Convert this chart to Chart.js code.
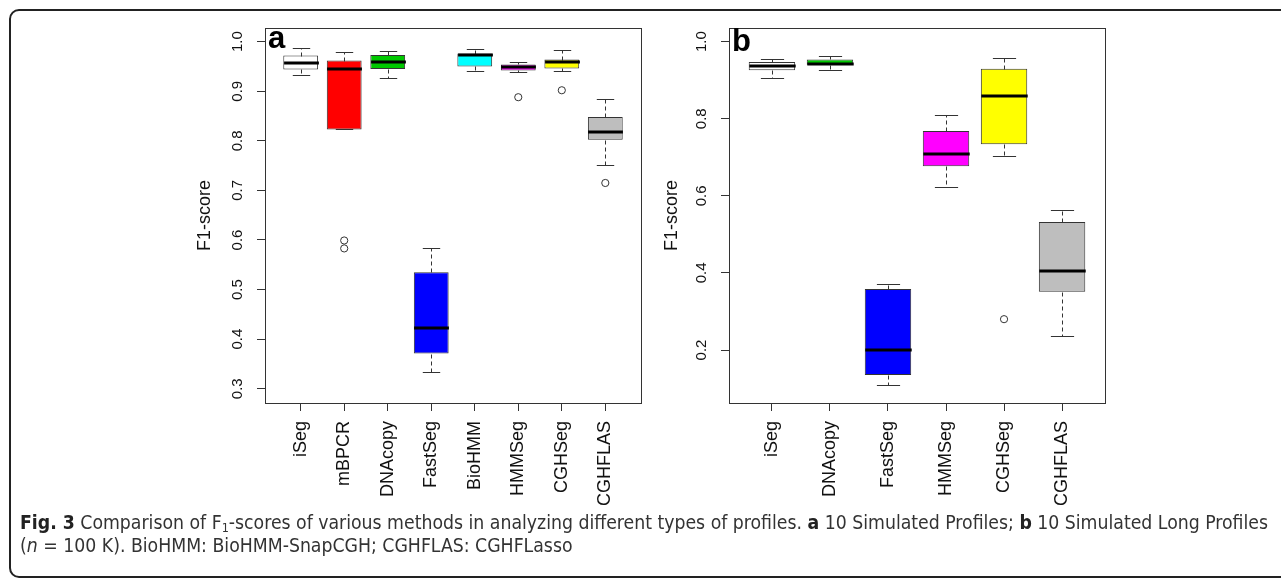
<!DOCTYPE html>
<html>
<head>
<meta charset="utf-8">
<title>F1-scores boxplots</title>
<script src="https://cdn.jsdelivr.net/npm/chart.js@4.4.1/dist/chart.umd.min.js"></script>
<style>
  html, body { margin: 0; padding: 0; background: #fff; }
  body { width: 1281px; height: 580px; position: relative; overflow: hidden; }
  #frame {
    position: absolute; left: 9px; top: 9px; width: 1320px; height: 569px;
    box-sizing: border-box; border: 2px solid #222; border-radius: 10px;
  }
  canvas { position: absolute; top: 0; }
  #chartA { left: 160px; }
  #chartB { left: 650px; }
  .cap {
    position: absolute; left: 20px; white-space: nowrap; color: #333;
    font-family: "Liberation Sans Narrow", "DejaVu Sans Condensed", "Liberation Sans", sans-serif;
    font-size: 20px; line-height: 22px; transform-origin: 0 0;
  }
  .cap b { color: #222; }
  .cap sub { font-size: 13px; vertical-align: -3px; line-height: 0; }
  #cap1 { top: 511px; }
  #cap2 { top: 534px; }
</style>
</head>
<body>
<div id="frame"></div>
<canvas id="chartA" width="490" height="520"></canvas>
<canvas id="chartB" width="470" height="520"></canvas>
<div class="cap" id="cap1"><b>Fig. 3</b> Comparison of F<sub>1</sub>-scores of various methods in analyzing different types of profiles. <b>a</b> 10 Simulated Profiles; <b>b</b> 10 Simulated Long Profiles</div>
<div class="cap" id="cap2">(<i>n</i> = 100 K). BioHMM: BioHMM-SnapCGH; CGHFLAS: CGHFLasso</div>
<script>
// Panel a: 10 simulated profiles
const catsA = ['iSeg', 'mBPCR', 'DNAcopy', 'FastSeg', 'BioHMM', 'HMMSeg', 'CGHSeg', 'CGHFLAS'];
const lowA  = [0.933, 0.823, 0.927, 0.333, 0.941, 0.938, 0.940, 0.751];
const q1A   = [0.944, 0.823, 0.945, 0.371, 0.950, 0.942, 0.946, 0.802];
const medA  = [0.958, 0.944, 0.959, 0.422, 0.974, 0.948, 0.959, 0.817];
const q3A   = [0.972, 0.962, 0.973, 0.535, 0.976, 0.954, 0.964, 0.848];
const highA = [0.988, 0.979, 0.981, 0.583, 0.985, 0.959, 0.983, 0.885];
const outA  = [[2, 0.599], [2, 0.583], [6, 0.888], [7, 0.902], [8, 0.715]];
const colorsA = ['#ffffff', '#ff0000', '#00c800', '#0000ff', '#00ffff', '#ff00ff', '#ffff00', '#bebebe'];
const yTicksA = [0.3, 0.4, 0.5, 0.6, 0.7, 0.8, 0.9, 1.0];

// Panel b: 10 simulated long profiles
const catsB = ['iSeg', 'DNAcopy', 'FastSeg', 'HMMSeg', 'CGHSeg', 'CGHFLAS'];
const lowB  = [0.905, 0.927, 0.109, 0.624, 0.704, 0.237];
const q1B   = [0.926, 0.940, 0.135, 0.677, 0.734, 0.351];
const medB  = [0.938, 0.943, 0.199, 0.708, 0.859, 0.404];
const q3B   = [0.947, 0.954, 0.358, 0.768, 0.930, 0.532];
const highB = [0.955, 0.962, 0.370, 0.811, 0.957, 0.564];
const outB  = [[5, 0.280]];
const colorsB = ['#ffffff', '#00c800', '#0000ff', '#ff00ff', '#ffff00', '#bebebe'];
const yTicksB = [0.2, 0.4, 0.6, 0.8, 1.0];

const FONT = "'Liberation Sans', Arial, sans-serif";

// whiskers, medians, frame, y tick labels and panel letter
function boxExtras(p) {
  return {
    id: 'boxExtras',
    afterDatasetsDraw(chart) {
      const { ctx, chartArea: a, scales: { x, y } } = chart;
      const bars = chart.getDatasetMeta(0).data;
      const line = (x1, y1, x2, y2) => {
        ctx.beginPath(); ctx.moveTo(x1, y1); ctx.lineTo(x2, y2); ctx.stroke();
      };
      const py = v => Math.round(y.getPixelForValue(v)) + 0.5;
      ctx.save();
      p.cats.forEach((c, i) => {
        const cx = Math.round(x.getPixelForValue(i + 1)) + 0.5;
        const w = bars[i].width;
        ctx.strokeStyle = '#333';
        ctx.lineWidth = 1;
        ctx.setLineDash([4, 3]);
        line(cx, py(p.q3[i]), cx, py(p.high[i]));
        line(cx, py(p.q1[i]), cx, py(p.low[i]));
        ctx.setLineDash([]);
        line(cx - w / 4, py(p.high[i]), cx + w / 4, py(p.high[i]));
        line(cx - w / 4, py(p.low[i]), cx + w / 4, py(p.low[i]));
        ctx.strokeStyle = '#000';
        ctx.lineWidth = 3;
        const ym = Math.round(y.getPixelForValue(p.med[i]));
        line(cx - w / 2, ym, cx + w / 2, ym);
      });
      // plot frame
      ctx.strokeStyle = '#333';
      ctx.lineWidth = 1;
      ctx.strokeRect(Math.round(a.left) + 0.5, Math.round(a.top) + 0.5, Math.round(a.width), Math.round(a.height));
      // y tick labels, rotated like R's default
      ctx.fillStyle = '#111';
      ctx.font = '15px ' + FONT;
      ctx.textAlign = 'center';
      ctx.textBaseline = 'middle';
      p.yTicks.forEach(v => {
        ctx.save();
        ctx.translate(a.left - 27, y.getPixelForValue(v));
        ctx.rotate(-Math.PI / 2);
        ctx.fillText(v.toFixed(1), 0, 0);
        ctx.restore();
      });
      // panel letter
      ctx.fillStyle = '#000';
      ctx.font = 'bold 31px ' + FONT;
      ctx.textAlign = 'left';
      ctx.textBaseline = 'alphabetic';
      ctx.fillText(p.letter, a.left + 3, a.top + p.letterBase);
      ctx.restore();
    }
  };
}

function makeBoxChart(id, p) {
  const ctx = document.getElementById(id).getContext('2d');
  return new Chart(ctx, {
    type: 'bar',
    data: {
      datasets: [
        {
          type: 'bar',
          data: p.cats.map((c, i) => ({ x: i + 1, y: [p.q1[i], p.q3[i]] })),
          backgroundColor: p.colors,
          borderColor: '#333',
          borderWidth: 1,
          borderSkipped: false,
          barPercentage: 0.8,
          categoryPercentage: 1.0
        },
        {
          type: 'scatter',
          data: p.out.map(o => ({ x: o[0], y: o[1] })),
          pointStyle: 'circle',
          pointRadius: 3.6,
          backgroundColor: 'rgba(0,0,0,0)',
          borderColor: '#333',
          borderWidth: 1
        }
      ]
    },
    options: {
      responsive: false,
      animation: false,
      events: [],
      layout: { padding: { top: 28, right: p.padRight, left: 0, bottom: 0 } },
      plugins: { legend: { display: false }, tooltip: { enabled: false } },
      scales: {
        x: {
          type: 'linear',
          offset: false,
          min: p.xMin,
          max: p.xMax,
          afterBuildTicks: s => { s.ticks = p.cats.map((c, i) => ({ value: i + 1 })); },
          afterFit: s => { s.height = 117; },
          ticks: {
            callback: (v, i) => p.cats[i],
            minRotation: 90,
            maxRotation: 90,
            autoSkip: false,
            padding: 10,
            color: '#111',
            font: { size: 18, family: FONT }
          },
          grid: { drawOnChartArea: false, tickLength: 8, color: '#333', offset: false },
          border: { display: false }
        },
        y: {
          min: p.yMin,
          max: p.yMax,
          afterBuildTicks: s => { s.ticks = p.yTicks.map(v => ({ value: v })); },
          afterFit: s => { s.width = p.axisW; },
          ticks: { display: false },
          grid: { drawOnChartArea: false, tickLength: 8, color: '#333' },
          border: { display: false },
          title: {
            display: true,
            text: 'F1-score',
            color: '#111',
            font: { size: 18, family: FONT },
            padding: { top: p.titlePad, bottom: 0 }
          }
        }
      }
    },
    plugins: [boxExtras(p)]
  });
}

makeBoxChart('chartA', {
  cats: catsA, low: lowA, q1: q1A, med: medA, q3: q3A, high: highA, out: outA,
  colors: colorsA, yTicks: yTicksA, yMin: 0.2712, yMax: 1.0276, xMin: 0.18, xMax: 8.82,
  axisW: 105, padRight: 9, titlePad: 34, letter: 'a', letterBase: 20
});

makeBoxChart('chartB', {
  cats: catsB, low: lowB, q1: q1B, med: medB, q3: q3B, high: highB, out: outB,
  colors: colorsB, yTicks: yTicksB, yMin: 0.0625, yMax: 1.0355, xMin: 0.26, xMax: 6.74,
  axisW: 79, padRight: 15, titlePad: 11, letter: 'b', letterBase: 23
});

// fit the caption to the width of the original text block
function fitCaption() {
  const c1 = document.getElementById('cap1');
  const c2 = document.getElementById('cap2');
  c1.style.transform = c2.style.transform = '';
  const k = 1248 / c1.getBoundingClientRect().width;
  c1.style.transform = c2.style.transform = 'scaleX(' + k + ')';
}
fitCaption();
if (document.fonts && document.fonts.ready) document.fonts.ready.then(fitCaption);
</script>
</body>
</html>
